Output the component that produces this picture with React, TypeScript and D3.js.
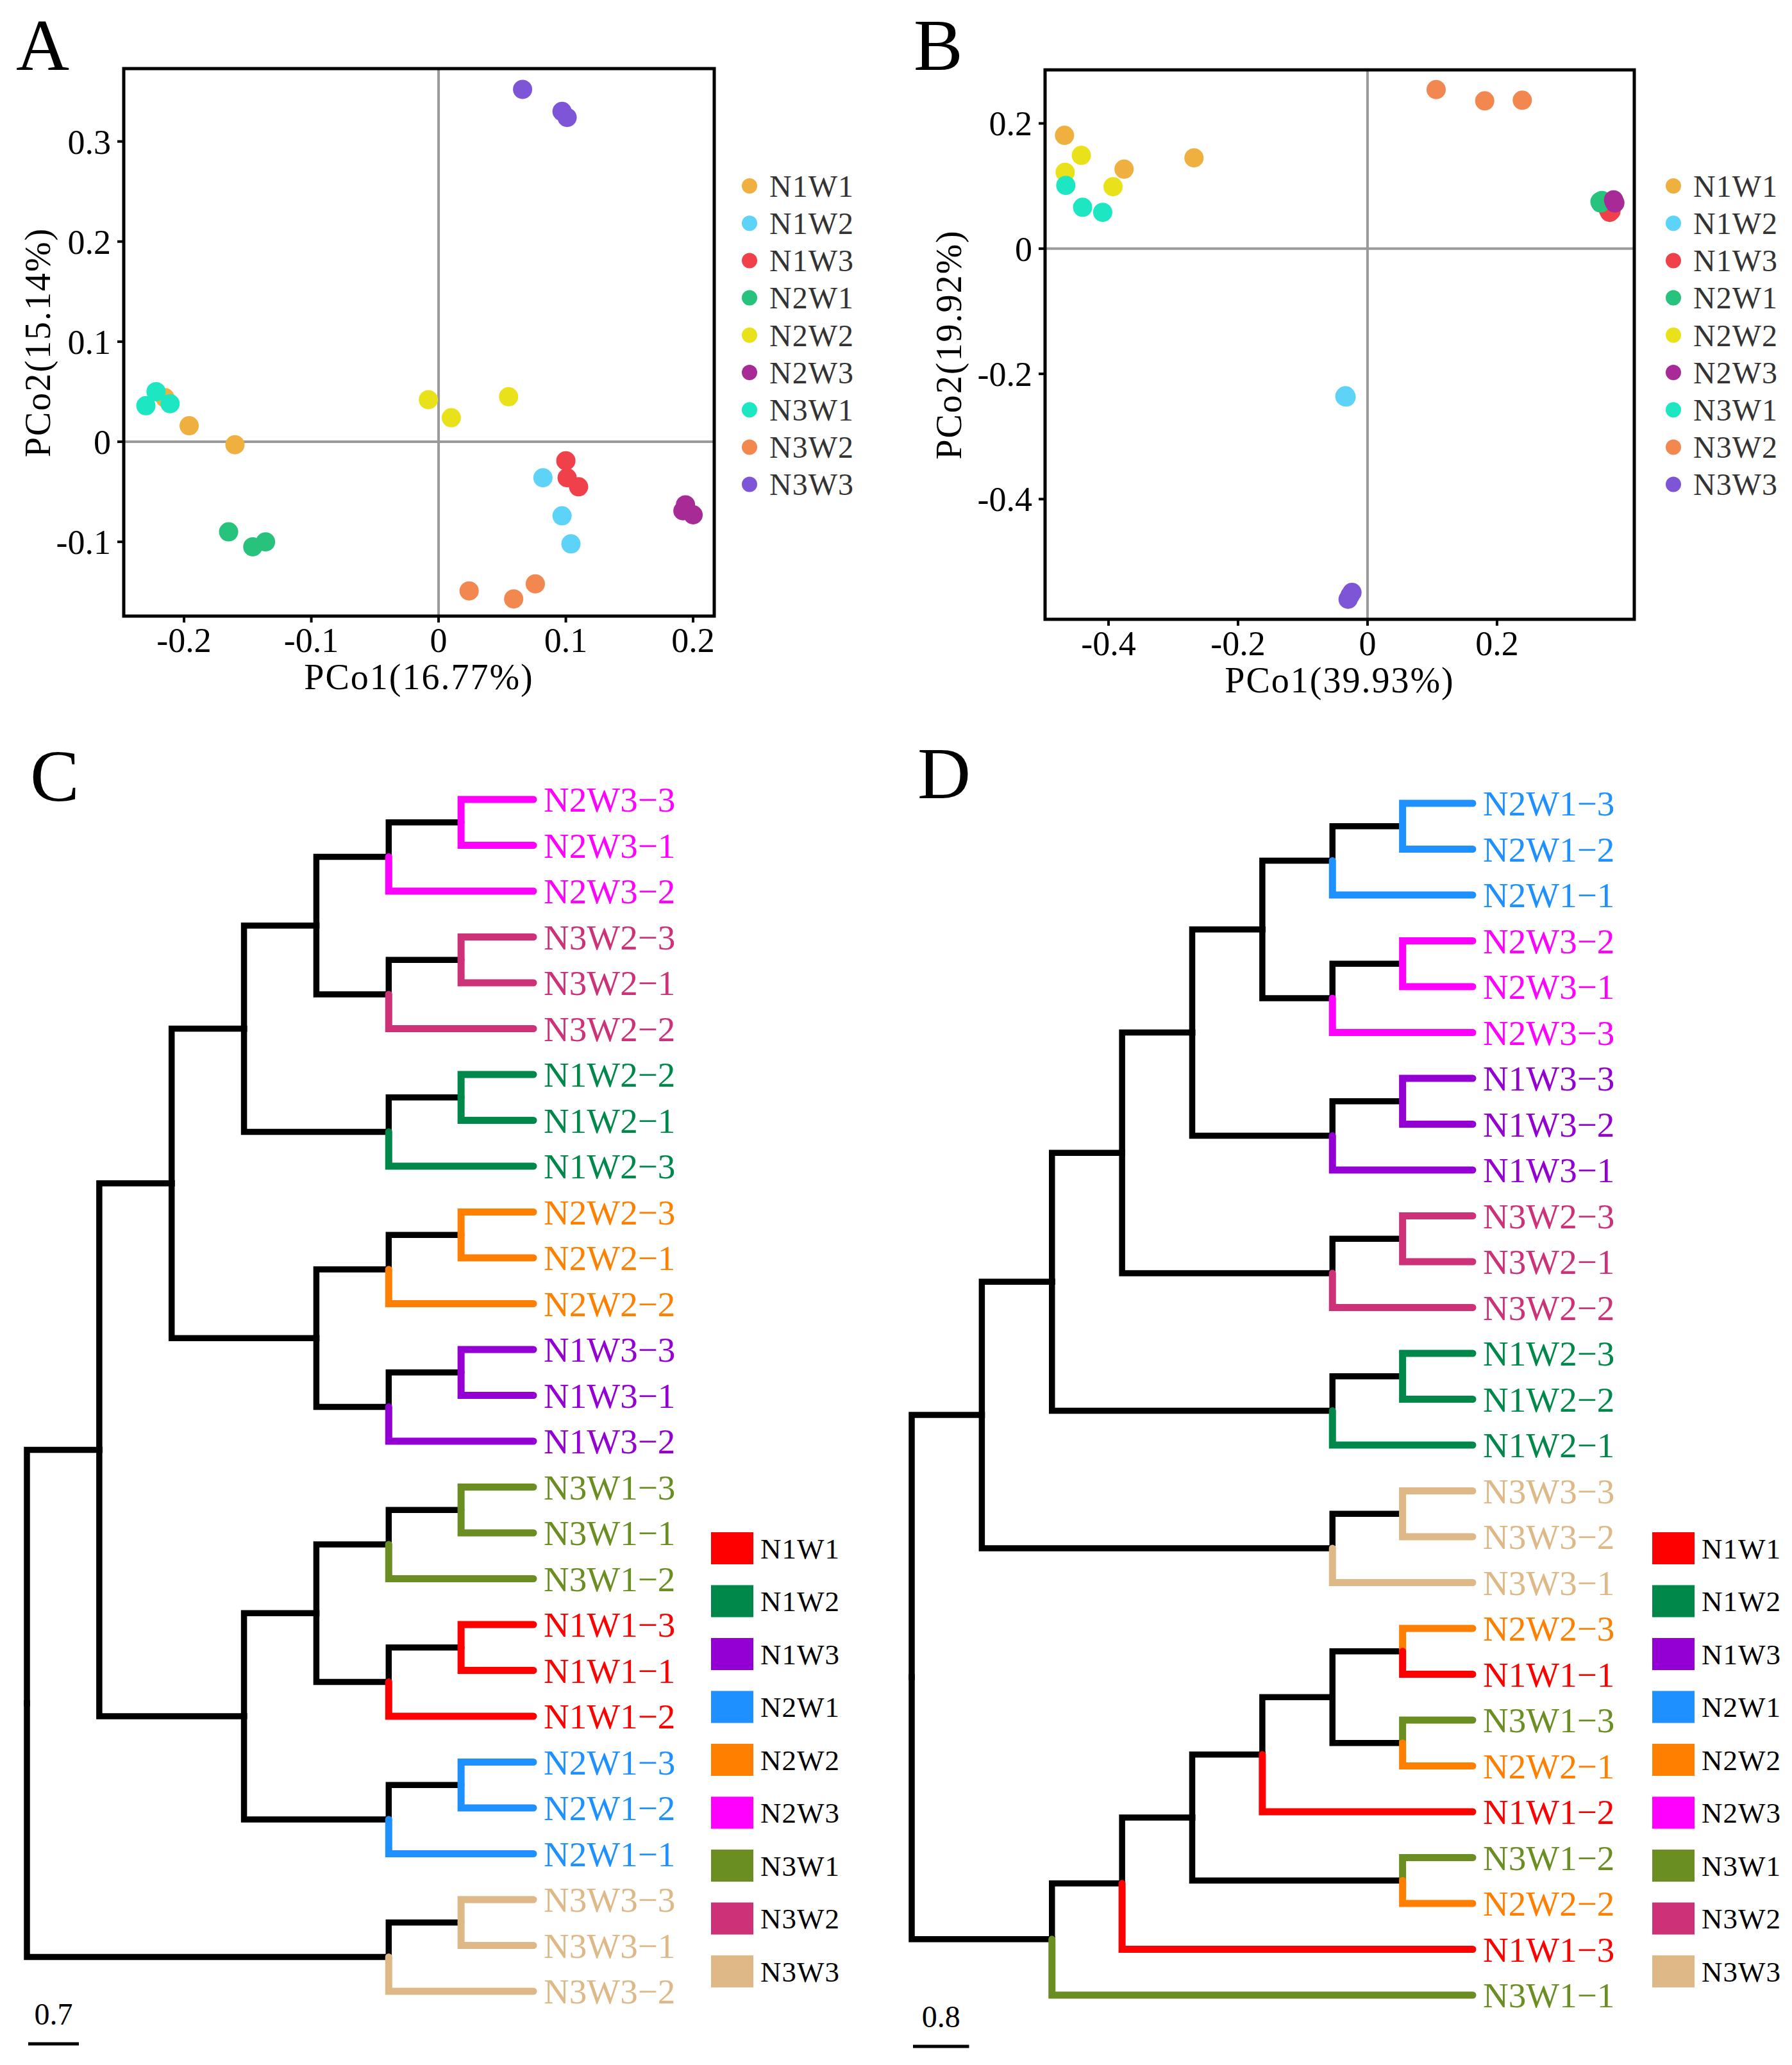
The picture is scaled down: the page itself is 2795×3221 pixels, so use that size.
import React from 'react'
import * as d3 from 'd3'

const W = 2795
const H = 3221
const FONT = '"Liberation Serif", "Times New Roman", serif'

// ---- groups & colours ----
const groups = ['N1W1', 'N1W2', 'N1W3', 'N2W1', 'N2W2', 'N2W3', 'N3W1', 'N3W2', 'N3W3']
const pcoaColors = ['#EFB040', '#5CD3F7', '#F0404A', '#27C27C', '#E9E21A', '#A82A96', '#1DE6C2', '#F2874F', '#7F55D8']
const treeColors = ['#FF0000', '#00884A', '#9400D3', '#1E90FF', '#FF7F00', '#FF00FF', '#6B8E23', '#CD3278', '#DEB887']

// ---- PCoA A (PCo1 16.77%, PCo2 15.14%) ----
const pcoaAGroup = ['N1W1', 'N1W1', 'N1W1', 'N1W2', 'N1W2', 'N1W2', 'N1W3', 'N1W3', 'N1W3',
  'N2W1', 'N2W1', 'N2W1', 'N2W2', 'N2W2', 'N2W2', 'N2W3', 'N2W3', 'N2W3',
  'N3W1', 'N3W1', 'N3W1', 'N3W2', 'N3W2', 'N3W2', 'N3W3', 'N3W3', 'N3W3']
const pcoaAX = [-0.215, -0.196, -0.160, 0.082, 0.097, 0.104, 0.100, 0.101, 0.110,
  -0.165, -0.146, -0.136, -0.008, 0.010, 0.055, 0.192, 0.194, 0.200,
  -0.230, -0.222, -0.211, 0.024, 0.059, 0.076, 0.066, 0.097, 0.101]
const pcoaAY = [0.044, 0.016, -0.003, -0.036, -0.074, -0.102, -0.019, -0.036, -0.045,
  -0.090, -0.105, -0.100, 0.042, 0.024, 0.045, -0.069, -0.063, -0.073,
  0.036, 0.050, 0.038, -0.149, -0.157, -0.142, 0.352, 0.330, 0.324]
const pcoaATicksX = [-0.2, -0.1, 0, 0.1, 0.2]
const pcoaATicksY = [-0.1, 0, 0.1, 0.2, 0.3]

// ---- PCoA B (PCo1 39.93%, PCo2 19.92%) ----
const pcoaBGroup = pcoaAGroup
const pcoaBX = [-0.468, -0.376, -0.268, -0.035, -0.034, -0.033, 0.374, 0.372, 0.376,
  0.359, 0.362, 0.360, -0.442, -0.467, -0.393, 0.381, 0.380, 0.382,
  -0.466, -0.440, -0.409, 0.106, 0.181, 0.239, -0.024, -0.030, -0.027]
const pcoaBY = [0.181, 0.127, 0.145, -0.236, -0.235, -0.237, 0.058, 0.062, 0.060,
  0.075, 0.077, 0.073, 0.149, 0.122, 0.099, 0.075, 0.078, 0.073,
  0.101, 0.066, 0.058, 0.254, 0.236, 0.237, -0.549, -0.560, -0.554]
const pcoaBTicksX = [-0.4, -0.2, 0, 0.2]
const pcoaBTicksY = [-0.4, -0.2, 0, 0.2]

// ---- dendrograms (nested clades, leaf names) ----
type Clade = string | Clade[]
const treeC: Clade = [
  [
    [
      [
        [[['N2W3-3', 'N2W3-1'], 'N2W3-2'], [['N3W2-3', 'N3W2-1'], 'N3W2-2']],
        [['N1W2-2', 'N1W2-1'], 'N1W2-3']
      ],
      [[['N2W2-3', 'N2W2-1'], 'N2W2-2'], [['N1W3-3', 'N1W3-1'], 'N1W3-2']]
    ],
    [
      [[['N3W1-3', 'N3W1-1'], 'N3W1-2'], [['N1W1-3', 'N1W1-1'], 'N1W1-2']],
      [['N2W1-3', 'N2W1-2'], 'N2W1-1']
    ]
  ],
  [['N3W3-3', 'N3W3-1'], 'N3W3-2']
]
const treeD: Clade = [
  [
    [
      [
        [
          [[['N2W1-3', 'N2W1-2'], 'N2W1-1'], [['N2W3-2', 'N2W3-1'], 'N2W3-3']],
          [['N1W3-3', 'N1W3-2'], 'N1W3-1']
        ],
        [['N3W2-3', 'N3W2-1'], 'N3W2-2']
      ],
      [['N1W2-3', 'N1W2-2'], 'N1W2-1']
    ],
    [['N3W3-3', 'N3W3-2'], 'N3W3-1']
  ],
  [
    [
      [
        [[['N2W2-3', 'N1W1-1'], ['N3W1-3', 'N2W2-1']], 'N1W1-2'],
        ['N3W1-2', 'N2W2-2']
      ],
      'N1W1-3'
    ],
    'N3W1-1'
  ]
]

interface ScatterProps {
  x0: number; x1: number; y0: number; y1: number
  xDomain: [number, number]; yDomain: [number, number]
  xs: number[]; ys: number[]; gs: string[]
  ticksX: number[]; ticksY: number[]
  xTitle: string; yTitle: string; yTitleX: number
  legendX: number
}

const fmt = (d: number) => (d === 0 ? '0' : String(d))

const Scatter: React.FC<ScatterProps> = (p) => {
  const x = d3.scaleLinear().domain(p.xDomain).range([p.x0, p.x1])
  const y = d3.scaleLinear().domain(p.yDomain).range([p.y1, p.y0])
  const color = d3.scaleOrdinal<string, string>().domain(groups).range(pcoaColors)
  return (
    <g fontFamily={FONT}>
      <line x1={p.x0} x2={p.x1} y1={y(0)} y2={y(0)} stroke="#9a9a9a" strokeWidth={4} />
      <line x1={x(0)} x2={x(0)} y1={p.y0} y2={p.y1} stroke="#9a9a9a" strokeWidth={4} />
      {p.xs.map((v, i) => (
        <circle key={i} cx={x(v)} cy={y(p.ys[i])} r={15} fill={color(p.gs[i])} />
      ))}
      <rect x={p.x0} y={p.y0} width={p.x1 - p.x0} height={p.y1 - p.y0} fill="none" stroke="#000" strokeWidth={5} />
      {p.ticksX.map(t => (
        <g key={t}>
          <line x1={x(t)} x2={x(t)} y1={p.y1} y2={p.y1 + 10} stroke="#000" strokeWidth={4} />
          <text x={x(t)} y={p.y1 + 56} fontSize={54} textAnchor="middle">{fmt(t)}</text>
        </g>
      ))}
      {p.ticksY.map(t => (
        <g key={t}>
          <line x1={p.x0 - 10} x2={p.x0} y1={y(t)} y2={y(t)} stroke="#000" strokeWidth={4} />
          <text x={p.x0 - 20} y={y(t)} dy="0.35em" fontSize={54} textAnchor="end">{fmt(t)}</text>
        </g>
      ))}
      <text x={(p.x0 + p.x1) / 2} y={p.y1 + 114} fontSize={56} textAnchor="middle" letterSpacing={2}>{p.xTitle}</text>
      <text transform={`translate(${p.yTitleX},${(p.y0 + p.y1) / 2}) rotate(-90)`} dy="0.35em" fontSize={56}
        textAnchor="middle" letterSpacing={2}>{p.yTitle}</text>
      {groups.map((g, i) => (
        <g key={g}>
          <circle cx={p.legendX} cy={290 + i * 58.2} r={12} fill={color(g)} />
          <text x={p.legendX + 31} y={290 + i * 58.2} dy="0.35em" fontSize={48} fill="#333" letterSpacing={1}>{g}</text>
        </g>
      ))}
    </g>
  )
}

interface TreeProps {
  data: Clade
  rootX: number; leafX: number; yTop: number; yBottom: number
  barValue: number; barY: number
  legendX: number
}

const Dendrogram: React.FC<TreeProps> = ({ data, rootX, leafX, yTop, yBottom, barValue, barY, legendX }) => {
  const root = d3.hierarchy<Clade>(data, d => (Array.isArray(d) ? d : null))
  const n = root.leaves().length
  const step = (yBottom - yTop) / (n - 1)
  // d3.cluster pads half a step at each end, so widen the extent accordingly
  d3.cluster<Clade>().size([step * n, leafX - rootX]).separation(() => 1)(root)
  const top = yTop - step / 2
  const xs = d3.scaleLinear().domain([0, root.height]).range([rootX, leafX])
  const color = d3.scaleOrdinal<string, string>().domain(groups).range(treeColors)
  const px = (nd: d3.HierarchyPointNode<Clade>) => rootX + nd.y
  const py = (nd: d3.HierarchyPointNode<Clade>) => top + nd.x
  const links = (root as d3.HierarchyPointNode<Clade>).links()
  const black = links.filter(l => l.target.children)
  const colored = links.filter(l => !l.target.children)
  const path = (l: d3.HierarchyPointLink<Clade>) =>
    `M${px(l.source)},${py(l.source)}V${py(l.target)}H${px(l.target)}`
  const grp = (nd: d3.HierarchyPointNode<Clade>) => (nd.data as string).split('-')[0]
  const leaves = (root as d3.HierarchyPointNode<Clade>).leaves()
  return (
    <g fontFamily={FONT}>
      {black.map((l, i) => (
        <path key={'b' + i} d={path(l)} fill="none" stroke="#000" strokeWidth={9.5} strokeLinejoin="miter" strokeLinecap="square" />
      ))}
      {colored.map((l, i) => (
        <path key={'c' + i} d={path(l)} fill="none" stroke={color(grp(l.target))} strokeWidth={11}
          strokeLinejoin="miter" strokeLinecap="round" />
      ))}
      {leaves.map((nd, i) => (
        <text key={i} x={px(nd) + 16} y={py(nd)} dy="0.35em" fontSize={55} fill={color(grp(nd))}>
          {(nd.data as string).replace('-', '\u2212')}
        </text>
      ))}
      <line x1={xs(0) + 2} x2={xs(barValue) + 2} y1={barY} y2={barY} stroke="#000" strokeWidth={5} />
      <text x={(xs(0) + xs(barValue)) / 2 + 2} y={barY - 30} fontSize={48} textAnchor="middle">{barValue}</text>
      {groups.map((g, i) => (
        <g key={g}>
          <rect x={legendX} y={2415 + i * 82.5 - 25} width={66} height={50} fill={color(g)} />
          <text x={legendX + 77} y={2415 + i * 82.5} dy="0.35em" fontSize={45} letterSpacing={1}>{g}</text>
        </g>
      ))}
    </g>
  )
}

export default function App() {
  return (
    <>
      <style>{'body{margin:0;background:#fff}'}</style>
      <svg width={W} height={H} viewBox={`0 0 ${W} ${H}`} style={{ display: 'block', background: '#fff' }}>
        <g fontFamily={FONT} fontSize={115}>
          <text x={25} y={109}>A</text>
          <text x={1425} y={109}>B</text>
          <text x={47} y={1249}>C</text>
          <text x={1431} y={1245}>D</text>
        </g>
        <Scatter x0={193} x1={1114} y0={107} y1={961}
          xDomain={[-0.2474, 0.2166]} yDomain={[-0.1742, 0.3728]}
          xs={pcoaAX} ys={pcoaAY} gs={pcoaAGroup}
          ticksX={pcoaATicksX} ticksY={pcoaATicksY}
          xTitle="PCo1(16.77%)" yTitle="PCo2(15.14%)" yTitleX={58} legendX={1169} />
        <Scatter x0={1630} x1={2549} y0={109} y1={966}
          xDomain={[-0.498, 0.412]} yDomain={[-0.592, 0.2855]}
          xs={pcoaBX} ys={pcoaBY} gs={pcoaBGroup}
          ticksX={pcoaBTicksX} ticksY={pcoaBTicksY}
          xTitle="PCo1(39.93%)" yTitle="PCo2(19.92%)" yTitleX={1479} legendX={2610} />
        <Dendrogram data={treeC} rootX={42} leafX={832} yTop={1247} yBottom={3106}
          barValue={0.7} barY={3188} legendX={1109} />
        <Dendrogram data={treeD} rootX={1422} leafX={2297} yTop={1253} yBottom={3112}
          barValue={0.8} barY={3192} legendX={2577} />
      </svg>
    </>
  )
}
